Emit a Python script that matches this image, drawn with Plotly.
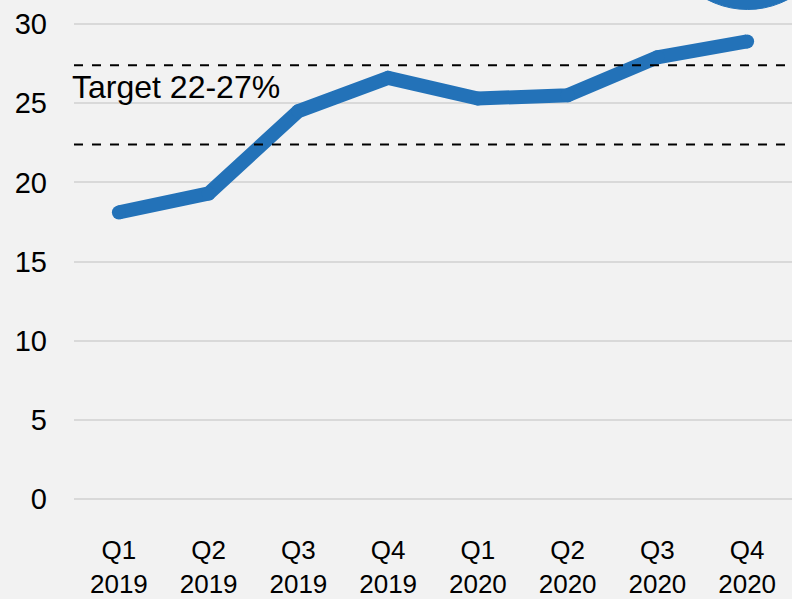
import plotly.graph_objects as go

quarters = ["Q1<br>2019", "Q2<br>2019", "Q3<br>2019", "Q4<br>2019",
            "Q1<br>2020", "Q2<br>2020", "Q3<br>2020", "Q4<br>2020"]
values = [18.1, 19.3, 24.5, 26.6, 25.3, 25.5, 27.9, 28.9]
target_low = 22.4
target_high = 27.4
y_ticks = [0, 5, 10, 15, 20, 25, 30]

blue = "#2372B8"
font_family = "Liberation Sans, Arial, sans-serif"

fig = go.Figure()

fig.add_trace(go.Scatter(
    x=quarters, y=values,
    mode="lines+markers",
    line=dict(color=blue, width=14),
    marker=dict(color=blue, size=14),
    hoverinfo="skip",
    showlegend=False,
))

# target band lines
for v in [target_low, target_high]:
    fig.add_shape(type="line", xref="paper", yref="y",
                  x0=0, x1=1, y0=v, y1=v,
                  line=dict(color="black", width=2, dash="dash"))

fig.add_annotation(text="Target 22-27%", xref="paper", yref="y",
                   x=0, y=26.0, xanchor="left", yanchor="middle",
                   xshift=-4, showarrow=False,
                   font=dict(family=font_family, size=32, color="black"))

# highlight circle, mostly cut off at the top right
fig.add_shape(type="circle", xref="paper", yref="paper",
              x0=0.817, x1=1.059, y0=0.981, y1=1.329,
              line=dict(color=blue, width=1), fillcolor=blue)

fig.update_layout(
    width=792, height=599,
    margin=dict(l=74, r=0, t=0, b=100),
    paper_bgcolor="#f2f2f2",
    plot_bgcolor="#f2f2f2",
    font=dict(family=font_family, color="black"),
    xaxis=dict(
        range=[-0.5, 7.5],
        showgrid=False, zeroline=False, showline=False,
        tickfont=dict(size=26),
        ticklabelstandoff=33,
        automargin=False,
    ),
    yaxis=dict(
        range=[0, 31.52],
        tickvals=y_ticks,
        gridcolor="#d9d9d9", gridwidth=2,
        zeroline=True, zerolinecolor="#d9d9d9", zerolinewidth=2,
        showline=False,
        tickfont=dict(size=29),
        ticklabelstandoff=26,
        automargin=False,
    ),
)

page_fix = ("document.documentElement.style.overflow='hidden';"
            "document.body.style.margin='0';"
            "document.body.style.overflow='hidden';"
            "window.scrollTo(0,0);")
fig.write_html("out.html", config={"displayModeBar": False}, post_script=page_fix)
